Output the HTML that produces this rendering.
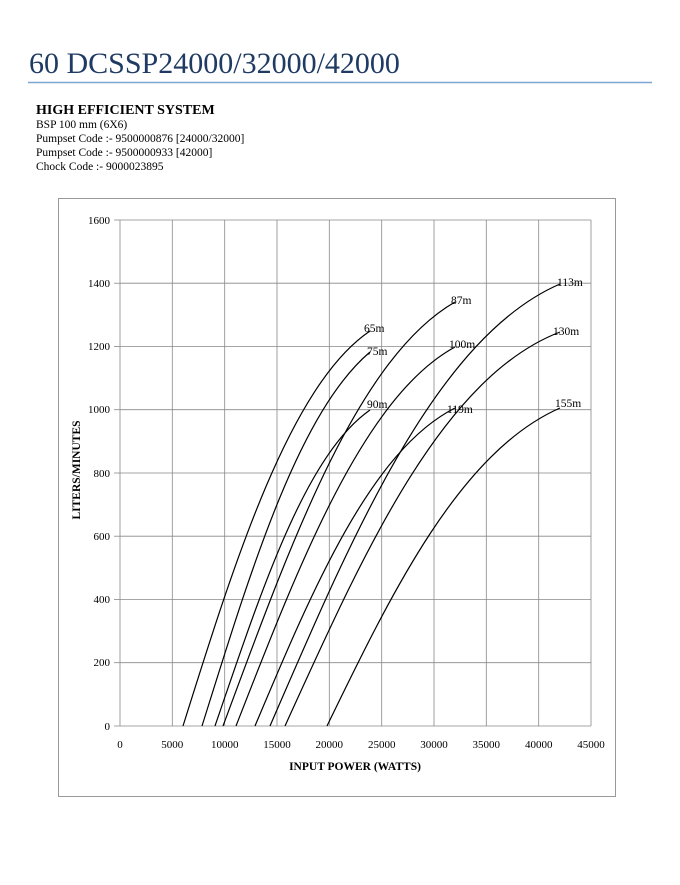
<!DOCTYPE html>
<html><head><meta charset="utf-8"><style>
body{margin:0;background:#fff;width:680px;height:880px;overflow:hidden;font-family:"Liberation Serif",serif;}
</style></head><body>
<svg width="680" height="880" xmlns="http://www.w3.org/2000/svg" font-family="Liberation Serif, serif">
<text x="29" y="73" font-size="30" fill="#1f3b63">60 DCSSP24000/32000/42000</text>
<line x1="28" y1="82.5" x2="652" y2="82.5" stroke="#7ea6d2" stroke-width="1.5"/>
<text x="36" y="114" font-size="14" font-weight="bold">HIGH EFFICIENT SYSTEM</text>
<g font-size="11.5">
<text x="36" y="128">BSP 100 mm (6X6)</text>
<text x="36" y="142">Pumpset Code :- 9500000876 [24000/32000]</text>
<text x="36" y="156">Pumpset Code :- 9500000933 [42000]</text>
<text x="36" y="170">Chock Code :-  9000023895</text>
</g>
<rect x="58.5" y="198.5" width="557" height="598" fill="none" stroke="#999" stroke-width="1"/>
<g stroke="#888" stroke-width="0.8">
<line x1="120" y1="220" x2="591" y2="220"/><line x1="120" y1="283.2" x2="591" y2="283.2"/>
<line x1="120" y1="346.5" x2="591" y2="346.5"/><line x1="120" y1="409.7" x2="591" y2="409.7"/>
<line x1="120" y1="473" x2="591" y2="473"/><line x1="120" y1="536.2" x2="591" y2="536.2"/>
<line x1="120" y1="599.5" x2="591" y2="599.5"/><line x1="120" y1="662.7" x2="591" y2="662.7"/>
<line x1="114" y1="726" x2="591" y2="726"/>
<line x1="120" y1="220" x2="120" y2="726"/><line x1="172.3" y1="220" x2="172.3" y2="726"/>
<line x1="224.7" y1="220" x2="224.7" y2="726"/><line x1="277" y1="220" x2="277" y2="726"/>
<line x1="329.3" y1="220" x2="329.3" y2="726"/><line x1="381.7" y1="220" x2="381.7" y2="726"/>
<line x1="434" y1="220" x2="434" y2="726"/><line x1="486.3" y1="220" x2="486.3" y2="726"/>
<line x1="538.7" y1="220" x2="538.7" y2="726"/><line x1="591" y1="220" x2="591" y2="726"/>
<line x1="114" y1="220" x2="120" y2="220"/><line x1="114" y1="283.2" x2="120" y2="283.2"/>
<line x1="114" y1="346.5" x2="120" y2="346.5"/><line x1="114" y1="409.7" x2="120" y2="409.7"/>
<line x1="114" y1="473" x2="120" y2="473"/><line x1="114" y1="536.2" x2="120" y2="536.2"/>
<line x1="114" y1="599.5" x2="120" y2="599.5"/><line x1="114" y1="662.7" x2="120" y2="662.7"/>
</g>
<g font-size="11" text-anchor="end">
<text x="110" y="224">1600</text><text x="110" y="287">1400</text><text x="110" y="350">1200</text>
<text x="110" y="413">1000</text><text x="110" y="477">800</text><text x="110" y="540">600</text>
<text x="110" y="603">400</text><text x="110" y="666">200</text><text x="110" y="730">0</text>
</g>
<g font-size="11" text-anchor="middle">
<text x="120" y="748">0</text><text x="172.3" y="748">5000</text><text x="224.7" y="748">10000</text>
<text x="277" y="748">15000</text><text x="329.3" y="748">20000</text><text x="381.7" y="748">25000</text>
<text x="434" y="748">30000</text><text x="486.3" y="748">35000</text><text x="538.7" y="748">40000</text>
<text x="591" y="748">45000</text>
</g>
<text x="355" y="770" font-size="11.5" font-weight="bold" text-anchor="middle">INPUT POWER (WATTS)</text>
<text transform="translate(80,470) rotate(-90)" font-size="11.5" font-weight="bold" text-anchor="middle">LITERS/MINUTES</text>
<g fill="none" stroke="#000" stroke-width="1.2">
<path d="M183,726 C235,560 290,385 370,331"/>
<path d="M202,726 C250,573 298,413 370,352"/>
<path d="M215,726 C259,598 304,456 370,410"/>
<path d="M223,726 C289,548 356,359 455,302"/>
<path d="M236,726 C298,567 363,397 455,347"/>
<path d="M255,726 C311,593 370,451 455,408"/>
<path d="M270,726 C351,539 435,338 560,284"/>
<path d="M285,726 C361,559 440,378 560,332"/>
<path d="M327,726 C392,592 460,452 560,408"/>
</g>
<g font-size="11.5">
<text x="364" y="332">65m</text><text x="367" y="355">75m</text><text x="367" y="408">90m</text>
<text x="451" y="304">87m</text><text x="449" y="348">100m</text><text x="447" y="413">119m</text>
<text x="557" y="286">113m</text><text x="553" y="335">130m</text><text x="555" y="407">155m</text>
</g>
</svg>
</body></html>
